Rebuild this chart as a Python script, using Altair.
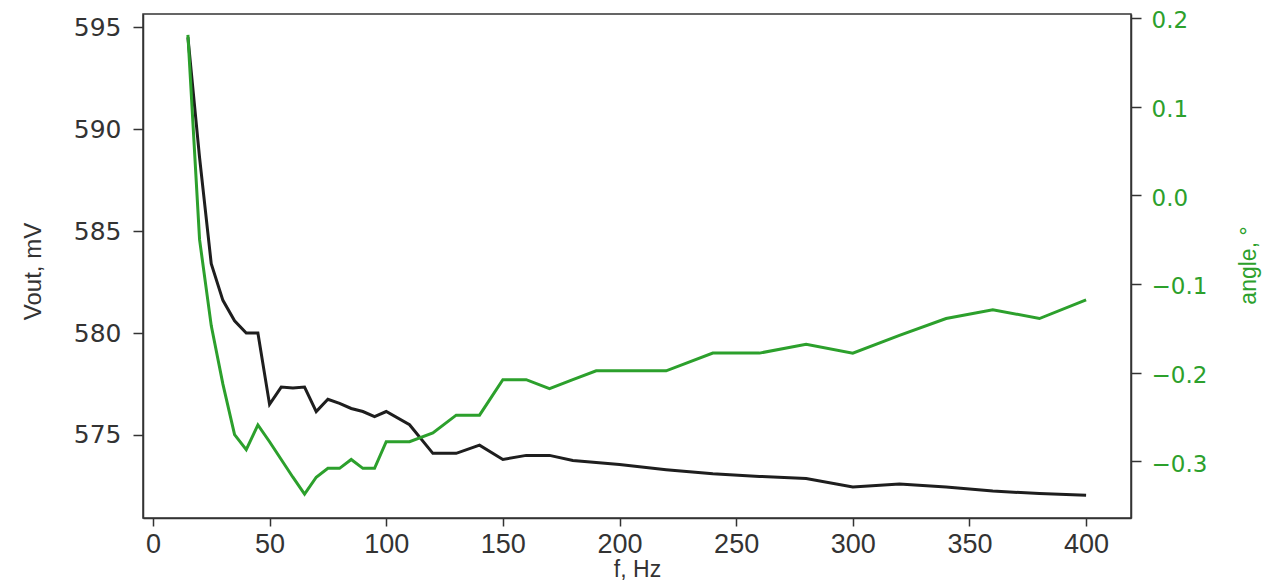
import altair as alt
import pandas as pd

freq = [15, 20, 25, 30, 35, 40, 45, 50, 55, 60, 65, 70, 75, 80, 85, 90, 95, 100,
        110, 120, 130, 140, 150, 160, 170, 180, 190, 200, 220, 240, 260, 280,
        300, 320, 340, 360, 380, 400]
vout = [594.5, 588.6, 583.4, 581.6, 580.6, 580.0, 580.0, 576.5, 577.35, 577.3,
        577.35, 576.15, 576.75, 576.55, 576.3, 576.15, 575.9, 576.15,
        575.5, 574.1, 574.1, 574.5, 573.8, 574.0, 574.0, 573.75, 573.65, 573.55,
        573.3, 573.1, 572.97, 572.87, 572.45, 572.6, 572.45, 572.25, 572.13, 572.05]
angle = [0.181, -0.05, -0.147, -0.213, -0.27, -0.287, -0.259, -0.278, -0.298, -0.318,
         -0.337, -0.318, -0.308, -0.308, -0.298, -0.308, -0.308, -0.278,
         -0.278, -0.268, -0.248, -0.248, -0.208, -0.208, -0.218, -0.208, -0.198, -0.198,
         -0.198, -0.178, -0.178, -0.168, -0.178, -0.158, -0.139, -0.129, -0.139, -0.118]

x_ticks = [0, 50, 100, 150, 200, 250, 300, 350, 400]
v_ticks = [575, 580, 585, 590, 595]
a_ticks = [-0.3, -0.2, -0.1, 0.0, 0.1, 0.2]

df = pd.DataFrame({"f": freq, "vout": vout, "angle": angle})

W, H = 988, 504
DARK = "#333333"
GREEN = "#2ca02c"


def xenc():
    return alt.X(
        "f:Q",
        scale=alt.Scale(domain=[-4.25, 419.25], nice=False, zero=False),
        axis=alt.Axis(
            values=x_ticks, title="f, Hz", grid=False, orient="bottom",
            tickSize=8, tickWidth=1.5, tickColor=DARK, domainColor=DARK, domainWidth=1.5,
            labelFont="Liberation Sans", labelFontSize=27, labelColor=DARK, labelPadding=5,
            labelFlush=False, labelOverlap=False,
            titleFont="Liberation Sans", titleFontSize=23, titleFontWeight="normal",
            titleColor=DARK, titleX=W / 2, titleY=58, titleBaseline="alphabetic",
            titleAlign="center",
        ),
    )


left = alt.Chart(df).mark_line(color="#1e1e1e", strokeWidth=3).encode(
    x=xenc(),
    y=alt.Y(
        "vout:Q",
        scale=alt.Scale(domain=[570.93, 595.64], nice=False, zero=False),
        axis=alt.Axis(
            values=v_ticks, title="Vout, mV", orient="left", grid=False,
            tickSize=10, tickWidth=1.5, tickColor=DARK, domainColor=DARK, domainWidth=1.5,
            labelFont="DejaVu Sans", labelFontSize=25, labelColor=DARK, labelPadding=12,
            labelFlush=False, labelOverlap=False,
            titleFont="Liberation Sans", titleFontSize=24, titleFontWeight="normal",
            titleColor=DARK, titleAngle=270, titleX=-110, titleY=257,
            titleAlign="center", titleBaseline="middle",
        ),
    ),
)

right = alt.Chart(df).mark_line(color=GREEN, strokeWidth=3).encode(
    x=xenc(),
    y=alt.Y(
        "angle:Q",
        scale=alt.Scale(domain=[-0.364, 0.2045], nice=False, zero=False),
        axis=alt.Axis(
            values=a_ticks, format=".1f", title="angle, °", orient="right", grid=False,
            tickSize=10, tickWidth=1.5, tickColor=DARK, domainColor=DARK, domainWidth=1.5,
            labelFont="DejaVu Sans", labelFontSize=23, labelColor=GREEN, labelPadding=10,
            labelOffset=3, labelFlush=False, labelOverlap=False,
            titleFont="Liberation Sans", titleFontSize=23, titleFontWeight="normal",
            titleColor=GREEN, titleAngle=270, titleX=117, titleY=251,
            titleAlign="center", titleBaseline="middle",
        ),
    ),
)

chart = (
    alt.layer(left, right)
    .resolve_scale(y="independent")
    .properties(
        width=W, height=H,
        autosize=alt.AutoSizeParams(type="none"),
        padding={"left": 135, "top": 6, "right": 137, "bottom": 64},
        background="white",
    )
    .configure_view(stroke=DARK, strokeWidth=1.5)
)

chart.save("out.html", embed_options={"renderer": "svg", "actions": False})
